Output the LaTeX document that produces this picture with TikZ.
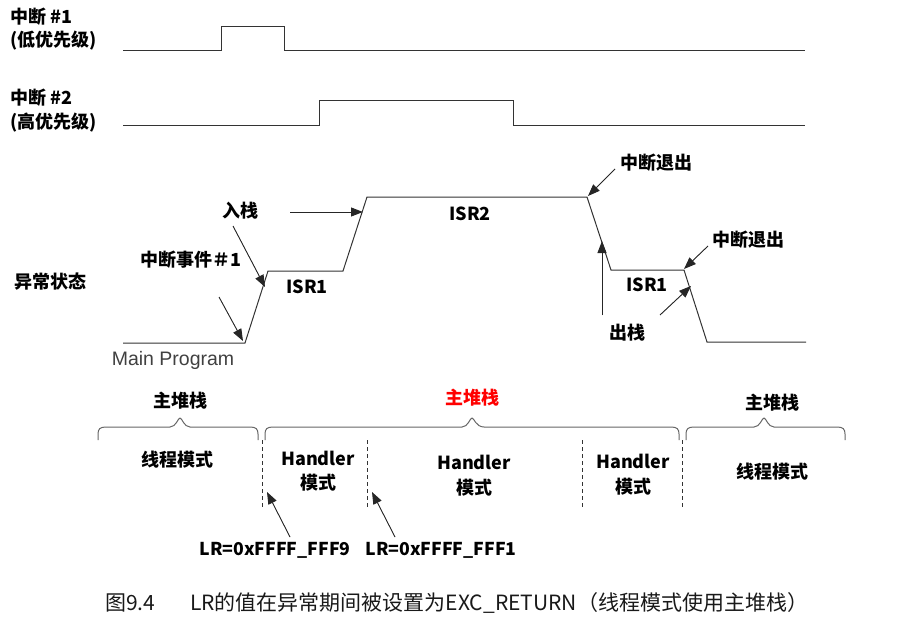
\documentclass[tikz,border=0pt]{standalone}
\usepackage{fontspec}
\newfontfamily\cjk{Noto Sans CJK SC}
\newfontfamily\arial{Liberation Sans}
\usetikzlibrary{arrows.meta}
\tikzset{
  lbl/.style={font=\cjk\bfseries\fontsize{18}{20}\selectfont, inner sep=0pt},
  biglbl/.style={font=\cjk\bfseries\fontsize{17.7}{20}\selectfont, inner sep=0pt},
  wave/.style={line width=1pt, draw=black!80},
  arr/.style={-{Triangle[length=12pt,width=9pt]}, line width=0.9pt, draw=black!85, fill=black!85},
  bracepath/.style={line width=1pt, draw=black!60},
  modesep/.style={dashed, dash pattern=on 4pt off 3pt, line width=0.8pt, draw=black!80},
  captxt/.style={font=\cjk\fontsize{21}{23}\selectfont, inner sep=0pt, anchor=west, text=black!90},
}
\begin{document}
\begin{tikzpicture}[x=1pt,y=-1pt]
\useasboundingbox (0,0) rectangle (920,618);
% interrupt labels
\node[lbl, anchor=west] (i1a) at (10,17) {中断 \#1};
\node[lbl, anchor=west] (i1b) at (10,41) {(低优先级)};
\node[lbl, anchor=west] (i2a) at (10,98) {中断 \#2};
\node[lbl, anchor=west] (i2b) at (10,123) {(高优先级)};
% interrupt waveforms
\draw[wave] (123,51) -- (221,51) -- (221,27) -- (284,27) -- (284,51) -- (805,51);
\draw[wave] (123,125) -- (319,125) -- (319,100) -- (513,100) -- (513,125) -- (805,125);
% exception state waveform
\coordinate (m0) at (123,343);
\coordinate (m1) at (245,343);
\coordinate (a1) at (268,271);
\coordinate (a2) at (343,271);
\coordinate (b1) at (367,197);
\coordinate (b2) at (587,197);
\coordinate (c1) at (611,270);
\coordinate (c2) at (684,270);
\coordinate (d1) at (707,342);
\coordinate (d2) at (806,342);
\draw[wave] (m0) -- (m1) -- (a1) -- (a2) -- (b1) -- (b2) -- (c1) -- (c2) -- (d1) -- (d2);
% labels on the state waveform
\node[lbl, anchor=west] (state) at (14,282) {异常状态};
\node[font=\arial\fontsize{19.5}{21}\selectfont, text=black!75, inner sep=0pt] (main) at (173,360) {Main Program};
\node[lbl] (isr1a) at (307,287) {ISR1};
\node[lbl] (isr2) at (470,214) {ISR2};
\node[lbl] (isr1b) at (647,285) {ISR1};
\node[lbl] (push) at (240,211) {入栈};
\node[lbl] (evt) at (191,260) {中断事件＃1};
\node[lbl] (exit1) at (656,163) {中断退出};
\node[lbl] (exit2) at (748,240) {中断退出};
\node[lbl] (pop) at (627,333) {出栈};
% arrows
\coordinate (pushs) at (290,212);
\coordinate (pushe) at (363,212);
\draw[arr] (pushs) -- (pushe);
\coordinate (p2s) at (233,226);
\coordinate (p2e) at (265,287);
\draw[arr] (p2s) -- (p2e);
\coordinate (evs) at (219,297);
\coordinate (eve) at (243,341);
\draw[arr] (evs) -- (eve);
\coordinate (x1s) at (615,169);
\coordinate (x1e) at (588,196);
\draw[arr] (x1s) -- (x1e);
\coordinate (pops) at (602,315);
\coordinate (pope) at (602,241);
\draw[arr] (pops) -- (pope);
\coordinate (pop2s) at (660,315);
\coordinate (pop2e) at (691,286);
\draw[arr] (pop2s) -- (pop2e);
\coordinate (x2s) at (708,246);
\coordinate (x2e) at (684,269);
\draw[arr] (x2s) -- (x2e);
% braces
\draw[bracepath] (98,440) -- (98,434) .. controls (98,429) and (100,427) .. (106,427)
  -- (170,427) .. controls (176,427) and (178,418) .. (180,418) .. controls (182,418) and (184,427) .. (190,427)
  -- (250,427) .. controls (256,427) and (258,429) .. (258,434) -- (258,440);
\draw[bracepath] (265,440) -- (265,434) .. controls (265,429) and (267,427) .. (273,427)
  -- (462,427) .. controls (468,427) and (470,418) .. (472,418) .. controls (474,418) and (476,427) .. (484,427)
  -- (671,427) .. controls (677,427) and (679,429) .. (679,434) -- (679,440);
\draw[bracepath] (686,440) -- (686,434) .. controls (686,429) and (688,427) .. (694,427)
  -- (754,427) .. controls (760,427) and (762,418) .. (764,418) .. controls (766,418) and (768,427) .. (774,427)
  -- (837,427) .. controls (843,427) and (845,429) .. (845,434) -- (845,440);
\node[lbl] (ms1) at (180,401) {主堆栈};
\node[lbl, text=red] (ms2) at (472,398) {主堆栈};
\node[lbl] (ms3) at (772,403) {主堆栈};
% mode separators
\draw[modesep] (262,440) -- (262,508);
\draw[modesep] (367,440) -- (367,508);
\draw[modesep] (582,440) -- (582,508);
\draw[modesep] (682,440) -- (682,508);
% modes
\node[lbl] (t1) at (177,460) {线程模式};
\node[lbl] (h1a) at (318,458) {Handler};
\node[lbl] (h1b) at (318,483) {模式};
\node[lbl] (h2a) at (474,462) {Handler};
\node[lbl] (h2b) at (474,488) {模式};
\node[lbl] (h3a) at (633,461) {Handler};
\node[lbl] (h3b) at (633,487) {模式};
\node[lbl] (t2) at (772,472) {线程模式};
% LR labels
\node[biglbl] (lr1) at (275,550) {LR=0xFFFF\_FFF9};
\node[biglbl] (lr2) at (441,550) {LR=0xFFFF\_FFF1};
\coordinate (l1s) at (290,537);
\coordinate (l1e) at (267,492);
\draw[arr] (l1s) -- (l1e);
\coordinate (l2s) at (395,537);
\coordinate (l2e) at (372,492);
\draw[arr] (l2s) -- (l2e);
% caption
\node[captxt] (capa) at (105,603) {图9.4};
\node[captxt] (capb) at (190,603) {LR的值在异常期间被设置为EXC\_RETURN（线程模式使用主堆栈）};
\end{tikzpicture}
\end{document}
